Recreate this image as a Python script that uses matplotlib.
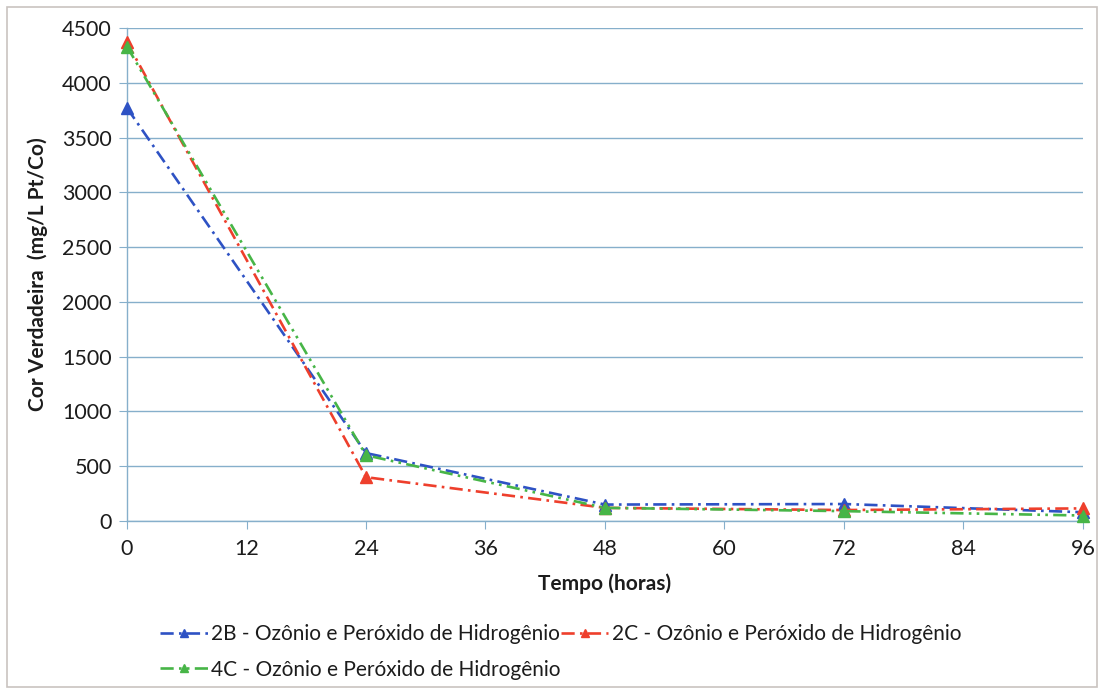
import matplotlib
matplotlib.use("Agg")
from matplotlib import pyplot as plt
from matplotlib.patches import Rectangle

HOURS = [0, 24, 48, 72, 96]
COR_2B = [3770, 620, 150, 155, 80]
COR_2C = [4370, 400, 120, 100, 115]
COR_4C = [4330, 600, 120, 90, 50]
LABELS = [
    "2B - Ozônio e Peróxido de Hidrogênio",
    "2C - Ozônio e Peróxido de Hidrogênio",
    "4C - Ozônio e Peróxido de Hidrogênio",
]
X_TICKS = [0, 12, 24, 36, 48, 60, 72, 84, 96]
Y_TICKS = [0, 500, 1000, 1500, 2000, 2500, 3000, 3500, 4000, 4500]

COLORS = ["#2E52C4", "#EE3F2C", "#47B547"]
DASHES = [(0, (5, 2, 1, 2)), (0, (5, 2, 1, 2)), (0, (5, 2, 1, 2, 1, 2))]
AXIS_COLOR = "#86AFCB"
TEXT_COLOR = "#1C1C1C"

plt.rcParams["font.family"] = ["Lato", "DejaVu Sans"]
plt.rcParams["font.size"] = 15

fig = plt.figure(figsize=(11.01, 6.91), dpi=100)
fig.patches.append(Rectangle((7 / 1101, 4 / 691), 1090 / 1101, 680 / 691,
                             transform=fig.transFigure, fill=False,
                             edgecolor="#C9C3C0", linewidth=1.2))
ax = fig.add_axes([127 / 1101, 1 - 521 / 691, 956 / 1101, 493 / 691])

handles = []
for ys, lab, col, ls in zip([COR_2B, COR_2C, COR_4C], LABELS, COLORS, DASHES):
    (h,) = ax.plot(HOURS, ys, color=col, linestyle=ls, linewidth=1.9,
                   marker="^", markersize=8, label=lab, clip_on=False, zorder=3)
    handles.append(h)

ax.set_xlim(0, 96)
ax.set_ylim(0, 4500)
ax.set_xticks(X_TICKS)
ax.set_yticks(Y_TICKS)
ax.grid(axis="y", color=AXIS_COLOR, linewidth=1.0)
ax.set_axisbelow(True)
for side in ["top", "right"]:
    ax.spines[side].set_visible(False)
for side in ["left", "bottom"]:
    ax.spines[side].set_color(AXIS_COLOR)
    ax.spines[side].set_linewidth(1.0)
ax.tick_params(axis="both", colors=AXIS_COLOR, labelcolor=TEXT_COLOR,
               labelsize=15.5, length=6)
ax.tick_params(axis="x", pad=7)
ax.tick_params(axis="y", pad=5)

ax.set_xlabel("Tempo (horas)", fontweight="bold", fontsize=15, color=TEXT_COLOR, labelpad=10)
ax.set_ylabel("Cor Verdadeira  (mg/L Pt/Co)", fontweight="bold", fontsize=15,
              color=TEXT_COLOR, labelpad=10)

# row-major order for a two-column legend
order = [0, 2, 1]
fig.legend([handles[i] for i in order], [LABELS[i] for i in order],
           loc="upper left", bbox_to_anchor=(160 / 1101, 1 - 624 / 691),
           ncol=2, frameon=False, fontsize=15, handlelength=2.3,
           handletextpad=0.15, columnspacing=0.0, labelspacing=0.75,
           markerscale=0.75, borderpad=0, borderaxespad=0, labelcolor=TEXT_COLOR)

fig.savefig("out.png", dpi=100)
